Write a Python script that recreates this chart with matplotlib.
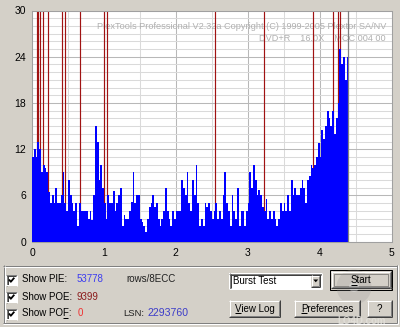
import matplotlib
matplotlib.use('Agg')
import matplotlib.pyplot as plt
import numpy as np
from matplotlib.patches import Rectangle, Circle, Polygon

# ---------------- data ----------------
pie_start = 0.0
pie_step = 0.025
pie_values = [
    11, 12, 11, 13, 12, 9, 10, 9.5, 9, 6.5,
    5, 6, 5, 7, 5, 5, 6, 9, 5, 4,
    8, 6, 5, 4, 5, 2, 5, 4, 4, 4,
    4, 3, 4, 2.8, 6, 15, 13, 8, 10, 7,
    5, 3, 6, 5, 5, 6.6, 4, 5, 6, 7,
    2, 3.5, 3, 3, 4, 5.2, 9, 5, 6, 6,
    3, 2.5, 2, 1.2, 3, 4.5, 5, 6, 4.5, 5,
    3, 2, 3, 4, 7, 4, 3, 2, 4, 3,
    4, 4, 4, 8, 7, 6, 9, 5, 4, 8,
    6, 10, 5, 2, 3, 2, 5, 4.5, 5, 4,
    3, 4, 5, 3, 4, 3, 6, 9, 5, 4,
    2, 6, 4, 3, 7, 2, 4, 4, 2, 4,
    5, 9, 7, 10, 8, 6, 6.7, 6, 4.5, 4,
    5.5, 3, 4, 3, 4, 3, 2, 3, 5, 4,
    5, 4, 6, 4, 8, 6, 7, 6, 6, 7,
    8, 7, 5, 8, 8.5, 10, 9.5, 10, 11, 12.8,
    11, 14.5, 13.3, 15, 17, 16, 15, 17, 14, 16,
    18, 25, 23, 24, 21, 24,
]
poe_positions = [0.066, 0.088, 0.107, 0.158, 0.227, 0.414, 0.46, 0.67,
                 1.004, 1.05, 2.54, 3.22, 3.91, 4.18, 4.26, 4.28]
poe_heights = [30, 30, 30, 30, 30, 30, 30, 30, 30, 30, 30, 30, 30, 30, 30, 30]
scan_end = 4.39

x_ticks = [0, 1, 2, 3, 4, 5]
y_ticks = [0, 6, 12, 18, 24, 30]

title_line1 = "PlexTools Professional V2.32a Copyright (C) 1999-2005 Plextor SA/NV"
title_line2 = "DVD+R    16.0X    MCC 004 00"

pie_total = "53778"
poe_total = "9399"
pof_total = "0"
lsn_value = "2293760"

# ---------------- figure ----------------
W, H = 400, 327
FACE = '#d4d0c8'
FONT = 'Liberation Sans'
fig = plt.figure(figsize=(W / 100, H / 100), dpi=100, facecolor=FACE)

bg = fig.add_axes([0, 0, 1, 1], zorder=0)
bg.set_xlim(0, W)
bg.set_ylim(H, 0)
bg.axis('off')

PX = 0.72


def hline(x0, x1, y, c, ls='-'):
    bg.plot([x0, x1], [y, y], color=c, lw=PX, solid_capstyle='butt', ls=ls)


def vline(x, y0, y1, c, ls='-'):
    bg.plot([x, x], [y0, y1], color=c, lw=PX, solid_capstyle='butt', ls=ls)


renderer = fig.canvas.get_renderer()
from matplotlib.font_manager import FontProperties


def text_w(s, size=7):
    fp = FontProperties(family=FONT, size=size)
    w, h, d = renderer.get_text_width_height_descent(s, fp, ismath=False)
    return w


def label(x, y, s, color='black', ha='left', underline=None, size=7):
    bg.text(x, y, s, fontsize=size, family=FONT, color=color, ha=ha, va='center')
    if underline is not None:
        tw = text_w(s, size)
        left = x if ha == 'left' else (x - tw / 2 if ha == 'center' else x - tw)
        u0 = left + text_w(s[:underline], size)
        u1 = left + text_w(s[:underline + 1], size)
        hline(u0, u1, y + 4.5, color)


def raised(x0, y0, x1, y1):
    bg.add_patch(Rectangle((x0, y0), x1 - x0, y1 - y0, facecolor=FACE, edgecolor='none'))
    hline(x0, x1 - 1, y0 + 0.5, 'white')
    vline(x0 + 0.5, y0, y1 - 1, 'white')
    hline(x0, x1, y1 - 0.5, '#404040')
    vline(x1 - 0.5, y0, y1, '#404040')
    hline(x0 + 1, x1 - 1, y1 - 1.5, '#808080')
    vline(x1 - 1.5, y0 + 1, y1 - 1, '#808080')


def sunken(x0, y0, x1, y1):
    bg.add_patch(Rectangle((x0, y0), x1 - x0, y1 - y0, facecolor='white', edgecolor='none'))
    hline(x0, x1, y0 + 0.5, '#808080')
    vline(x0 + 0.5, y0, y1, '#808080')
    hline(x0 + 1, x1 - 1, y0 + 1.5, '#404040')
    vline(x0 + 1.5, y0 + 1, y1 - 1, '#404040')
    hline(x0, x1, y1 - 0.5, 'white')
    vline(x1 - 0.5, y0, y1, 'white')


def checkbox(x0, y0, s=11):
    sunken(x0, y0, x0 + s, y0 + s)
    bg.plot([x0 + 3, x0 + 4.8, x0 + 8.3], [y0 + 5, y0 + 7.3, y0 + 3.2],
            color='black', lw=1.3, solid_capstyle='butt')


# group box (etched)
gx0, gy0, gx1, gy1 = 3, 265, 397, 323
for off, c in ((0, '#808080'), (1, 'white')):
    hline(gx0 + off, gx1, gy0 + 0.5 + off, c)
    vline(gx0 + 0.5 + off, gy0 + off, gy1, c)
hline(gx0, gx1, gy1 - 0.5, '#808080')
hline(gx0, gx1 + 1, gy1 + 0.5, 'white')
vline(gx1 - 0.5, gy0, gy1, '#808080')
vline(gx1 + 0.5, gy0, gy1 + 1, 'white')

rows = [279.5, 296.5, 313.5]
for ry in rows:
    checkbox(6, ry - 5)
label(21.5, rows[0], "Show PIE:")
label(21.5, rows[1], "Show POE:")
label(21.5, rows[2], "Show POF:", underline=7)
label(76.5, rows[0], pie_total, color='#3c3cf0')
label(76.5, rows[1], poe_total, color='#8a1a1a')
label(77.5, rows[2], pof_total, color='#f03030')
label(126.5, rows[0], "rows/8ECC", color='#202020')
label(144.5, rows[2], "LSN:", color='#202020', ha='right', size=6.8)
label(147, rows[2], lsn_value, color='#3c3cc8', size=7.6)

# combo box
sunken(229, 273, 322, 289)
bg.text(233, 281, "Burst Test", fontsize=7, family=FONT, va='center', ha='left')
raised(311, 275, 320, 287)
bg.add_patch(Polygon([[313.3, 279.5], [318.2, 279.5], [315.75, 282.3]], closed=True,
                     facecolor='black', edgecolor='none'))

# Start button (default)
bg.add_patch(Rectangle((330, 270), 62, 19.5, facecolor='none', edgecolor='black', lw=PX))
raised(331, 271, 391.5, 288.5)
bg.add_patch(Rectangle((334, 274), 54, 11.5, facecolor='none', edgecolor='#404040',
                       lw=PX, ls=(0, (1, 1))))
label(361, 280, "Start", ha='center', underline=0)
# faint CD watermark
bg.add_patch(Circle((354, 287), 17.5, facecolor='#909090', alpha=0.22, edgecolor='none'))
bg.add_patch(Circle((354, 287), 5, facecolor='#f0f0f0', alpha=0.35, edgecolor='none'))

raised(229, 300, 280, 317)
label(254.5, 308.5, "View Log", ha='center', underline=0)
raised(294, 300, 360, 317)
label(327, 308.5, "Preferences", ha='center', underline=0)
raised(367, 300, 392, 317)
label(379.5, 308.5, "?", ha='center')
bg.text(362, 321, "LO4D.com", fontsize=7, family=FONT, color='#e4e2dc', ha='center', va='center',
        fontweight='bold', alpha=0.8)

# ---------------- chart ----------------
left_px, right_px, top_px, bot_px = 32, 391.5, 10.5, 241.7
ax = fig.add_axes([left_px / W, 1 - bot_px / H, (right_px - left_px) / W, (bot_px - top_px) / H],
                  zorder=1)
ax.set_facecolor('white')
ax.set_xlim(0, 5)
ax.set_ylim(0, 30)
ax.set_xticks(x_ticks)
ax.set_yticks(y_ticks)
ax.set_xticks(np.arange(0, 5.01, 0.5), minor=True)
ax.set_yticks(np.arange(0, 30.01, 1), minor=True)
ax.grid(which='minor', color='#dadada', lw=0.75)
ax.grid(which='major', color='#b8b8b8', lw=0.75)
ax.set_axisbelow(True)
ax.tick_params(which='both', length=0)
ax.tick_params(axis='y', pad=4)
ax.tick_params(axis='x', pad=4.5)
for lab in ax.get_xticklabels() + ax.get_yticklabels():
    lab.set_fontfamily(FONT)
    lab.set_fontsize(7.5)
for s in ax.spines.values():
    s.set_color('#a0a0a0')
    s.set_linewidth(0.75)

ax.text(0.985, 0.93, title_line1, transform=ax.transAxes, ha='right', va='center',
        fontsize=6.6, family=FONT, color='#b0b0b0', zorder=1.5)
ax.text(0.985, 0.877, title_line2, transform=ax.transAxes, ha='right', va='center',
        fontsize=6.6, family=FONT, color='#b0b0b0', zorder=1.5)

ax.vlines(poe_positions, 0, poe_heights, color='#a01212', lw=0.85, zorder=2)

pie = np.array(pie_values, dtype=float)
xe = pie_start + pie_step * np.arange(len(pie) + 1)
ye = np.append(pie, pie[-1])
ax.fill_between(xe, 0, ye, step='post', color='#0000ff', lw=0, zorder=3)
ax.axvline(scan_end, color='#808080', lw=0.9, zorder=4)

fig.savefig('out.png', dpi=100, facecolor=FACE)
